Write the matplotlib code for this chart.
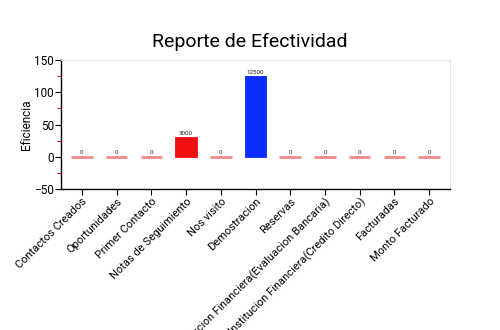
import matplotlib
matplotlib.use("Agg")
import matplotlib.pyplot as plt
from matplotlib.ticker import MultipleLocator

plt.rcParams['font.family'] = ['Roboto', 'DejaVu Sans']

categories = [
    "Contactos Creados", "Oportunidades", "Primer Contacto", "Notas de Seguimiento",
    "Nos visito", "Demostracion", "Reservas",
    "Institucion Financiera(Evaluacion Bancaria)",
    "Institucion Financiera(Credito Directo)", "Facturadas", "Monto Facturado",
]
counts = [0, 0, 0, 3000, 0, 12500, 0, 0, 0, 0, 0]
bar_colors = ["#f48a8a", "#f48a8a", "#f48a8a", "#f01010", "#f48a8a", "#0a2cff",
              "#f48a8a", "#f48a8a", "#f48a8a", "#f48a8a", "#f48a8a"]
scale = 100  # efficiency axis shows counts / 100

fig = plt.figure(figsize=(5, 3.3), dpi=100)
ax = fig.add_axes([0.122, 0.427, 0.778, 0.391])

x = list(range(len(categories)))
heights = [c / scale for c in counts]
for xi, h, col, c in zip(x, heights, bar_colors, counts):
    if h == 0:
        ax.plot([xi - 0.31, xi + 0.31], [0, 0], color=col, lw=2, solid_capstyle='butt', zorder=3)
    else:
        ax.bar(xi, h, width=0.62, color=col, edgecolor=col, linewidth=0.6, zorder=3)
    ax.text(xi, h + 2.5, f"{c}", ha='center', va='bottom', fontsize=4.5, color='#222222')

ax.set_xlim(-0.6, len(categories) - 0.4)
ax.set_ylim(-50, 150)
ax.yaxis.set_major_locator(MultipleLocator(50))
ax.yaxis.set_minor_locator(MultipleLocator(25))
ax.tick_params(axis='y', which='minor', length=3, color='red', width=0.8)
ax.tick_params(axis='y', which='major', length=4, width=0.8, labelsize=8.5, pad=1)
ax.tick_params(axis='x', length=4, width=0.8, labelsize=8, pad=1)
ax.set_xticks(x)
ax.set_xticklabels(categories, rotation=45, ha='right', rotation_mode='anchor')
ax.set_ylabel("Eficiencia", fontsize=8.5)
ax.yaxis.set_label_coords(-0.072, 0.5)

for s in ('top', 'right'):
    ax.spines[s].set_color('#e6e6e6')
    ax.spines[s].set_linewidth(0.8)
for s in ('left', 'bottom'):
    ax.spines[s].set_color('black')
    ax.spines[s].set_linewidth(1)

fig.suptitle("Reporte de Efectividad", x=0.5, y=0.9, fontsize=14)

fig.savefig("out.png", dpi=100)
